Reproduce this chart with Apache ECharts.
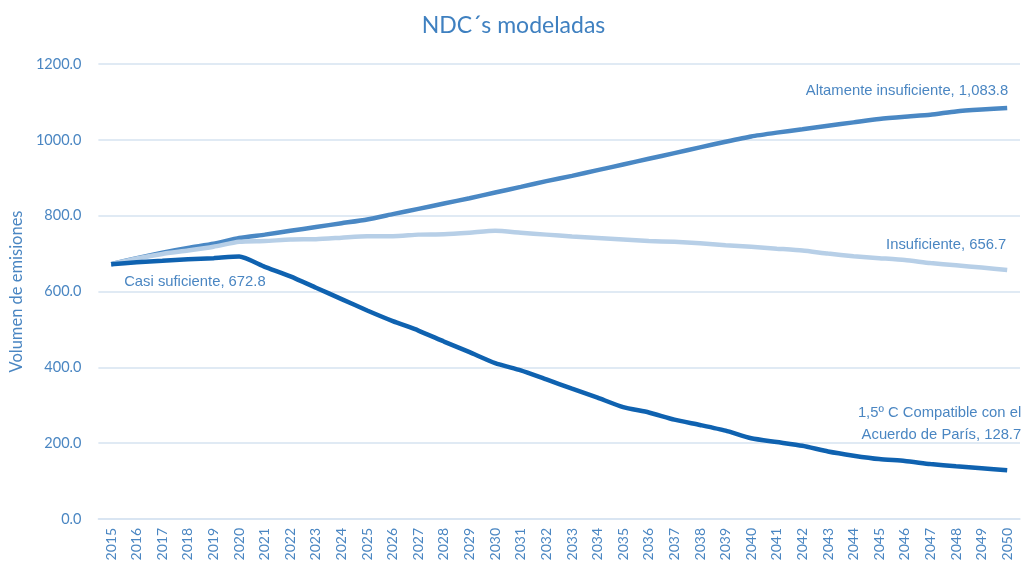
<!DOCTYPE html>
<html>
<head>
    <meta charset="utf-8">
    <title>NDC´s modeladas</title>
    <script src="https://cdn.jsdelivr.net/npm/echarts@6/dist/echarts.min.js"></script>
</head>
<body style="margin:0">
    <div id="main" style="width:1027px;height:564px;"></div>
    <script type="text/javascript">
        // años del eje x
        var years = [];
        for (var y = 2015; y <= 2050; y++) years.push(String(y));

        var altamente = [672, 688, 702, 715, 726, 741, 750, 760, 770, 780, 790,
            804, 818, 832, 846, 861, 876, 891, 905, 920, 935,
            950, 965, 980, 995, 1009, 1019, 1028, 1037, 1046, 1055,
            1061, 1066, 1075, 1080, 1083.8];
        var insuficiente = [672, 687, 699, 708, 718, 731, 733, 737, 738, 742, 746,
            746, 750, 751, 755, 760, 755, 750, 745, 741, 737,
            733, 731, 727, 722, 718, 713, 708, 700, 693, 688,
            683, 675, 669, 663, 656.7];
        var compatible = [672, 677, 681, 685, 688, 692, 665, 640, 610, 580, 550,
            522, 497, 468, 440, 411, 392, 368, 344, 320, 295,
            281, 262, 248, 233, 213, 203, 193, 178, 167, 158,
            153, 145, 139, 134, 128.7];
        var casiSuficiente = [672.8];

        var yTicks = [0, 200, 400, 600, 800, 1000, 1200];

        var textColor = '#4a86c2';

        function fmt(v) {
            return v.toLocaleString('en-US', {minimumFractionDigits: 1, maximumFractionDigits: 1});
        }

        // solo el ultimo punto lleva etiqueta
        function withEndLabel(arr, name, labelOpt) {
            return arr.map(function (v, i) {
                if (i !== arr.length - 1) return v;
                return {
                    value: v,
                    label: Object.assign({
                        show: true,
                        formatter: name + ', ' + fmt(v),
                        color: textColor,
                        fontFamily: 'Liberation Sans',
                        fontSize: 14.8
                    }, labelOpt)
                };
            });
        }

        var myChart = echarts.init(document.getElementById('main'));

        var lineBase = {
            type: 'line',
            symbol: 'circle',
            symbolSize: 0,
            showSymbol: true,
            smooth: 0.2
        };

        var option = {
            title: {
                text: 'NDC´s modeladas',
                left: 'center',
                top: 9,
                textStyle: {color: '#3f80c0', fontFamily: 'Lato', fontWeight: 'normal', fontSize: 23}
            },
            grid: {left: 97, right: 7, top: 64, bottom: 45},
            xAxis: {
                type: 'category',
                data: years,
                axisLine: {lineStyle: {color: '#d6e3f1', width: 1.5}},
                axisTick: {show: false},
                axisLabel: {rotate: 90, color: textColor, fontFamily: 'Lato', fontSize: 14, margin: 9, interval: 0}
            },
            yAxis: {
                type: 'value',
                min: yTicks[0],
                max: yTicks[yTicks.length - 1],
                interval: 200,
                name: 'Volumen de emisiones',
                nameLocation: 'middle',
                nameGap: 73,
                nameTextStyle: {color: textColor, fontFamily: 'Lato', fontSize: 16.5},
                axisLabel: {color: textColor, fontFamily: 'Lato', fontSize: 14.5, margin: 17,
                    formatter: function (v) { return v.toFixed(1); }},
                splitLine: {lineStyle: {color: '#d6e3f1', width: 1.5}}
            },
            series: [Object.assign({}, lineBase, {
                name: 'Altamente insuficiente',
                lineStyle: {color: '#4a88c4', width: 4.5},
                itemStyle: {color: '#4a88c4'},
                data: withEndLabel(altamente, 'Altamente insuficiente', {position: 'top', align: 'right', offset: [1, -5]})
            }), Object.assign({}, lineBase, {
                name: 'Insuficiente',
                lineStyle: {color: '#b7cfe7', width: 4.5},
                itemStyle: {color: '#b7cfe7'},
                data: withEndLabel(insuficiente, 'Insuficiente', {position: 'top', align: 'right', offset: [-1, -13]})
            }), Object.assign({}, lineBase, {
                name: '1,5º C Compatible con el Acuerdo de París',
                z: 3,
                lineStyle: {color: '#0f62b0', width: 4.5},
                itemStyle: {color: '#0f62b0'},
                data: withEndLabel(compatible, '1,5º C Compatible con el\nAcuerdo de París',
                    {position: 'top', align: 'right', offset: [14, -19], lineHeight: 22})
            }), Object.assign({}, lineBase, {
                name: 'Casi suficiente',
                itemStyle: {color: '#0f62b0'},
                data: withEndLabel(casiSuficiente, 'Casi suficiente', {position: 'bottom', align: 'left', offset: [13, 6]})
            })]
        };

        myChart.setOption(option);
    </script>
</body>
</html>
